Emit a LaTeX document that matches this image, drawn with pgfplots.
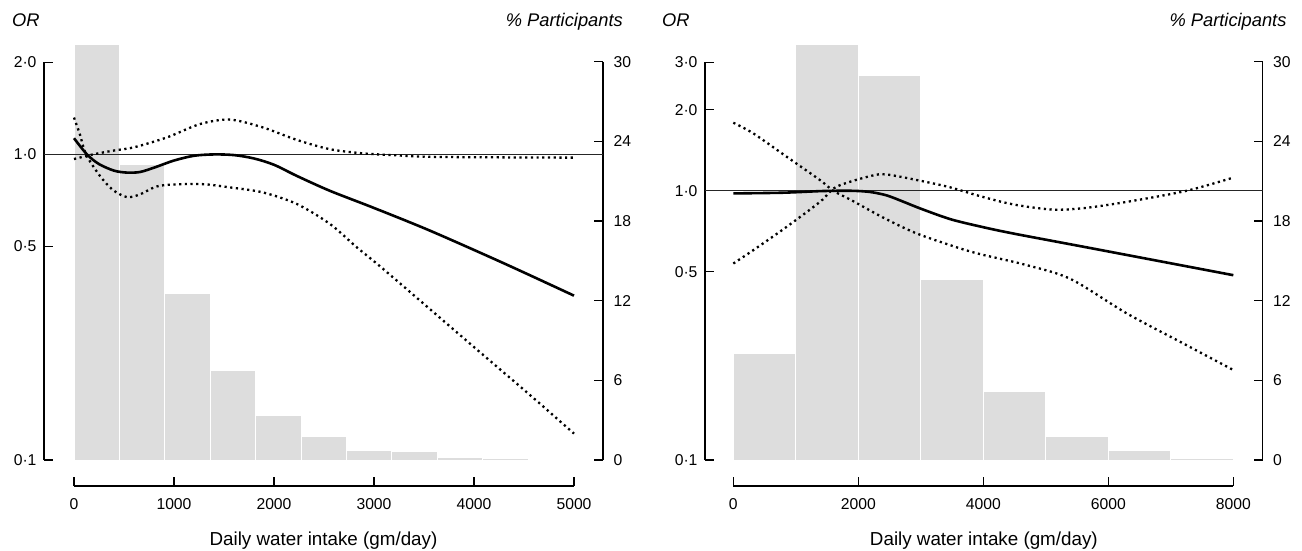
\documentclass[border=0pt]{standalone}
\usepackage{fontspec}
\setmainfont{Liberation Sans}
\usepackage{pgfplots}
\pgfplotsset{compat=1.18}
\definecolor{bargray}{RGB}{221,221,221}

\pgfplotsset{
  panel/.style={
    scale only axis, anchor=south west, height=441pt,
    tick align=inside, major tick length=9pt,
    axis line style={line width=1.2pt, black},
    major tick style={line width=1.2pt, black},
    ticklabel style={font=\fontsize{15.7}{18}\selectfont},
    y axis line style={shorten <=26pt, shorten >=17pt},
    minor tick num=0,
  },
  pctaxis/.style={panel, axis x line=none, axis y line*=right,
    ymin=-1.958, ymax=31.26,
    ytick={0,6,12,18,24,30}, yticklabels={0,6,12,18,24,30},
    yticklabel style={xshift=7pt},
    every axis y label/.style={at={(rel axis cs:1,1)}, anchor=base east,
      inner sep=0pt, yshift=18pt, font=\fontsize{18.3}{21}\selectfont\itshape},
    ylabel={\% Participants}},
  oraxis/.style={panel, axis x line*=bottom, axis y line*=left,
    yminorticks=false,
    xticklabel style={yshift=-9pt}, yticklabel style={xshift=-4pt},
    every axis y label/.style={at={(rel axis cs:0,1)}, anchor=base west,
      inner sep=0pt, yshift=18pt, font=\fontsize{18.3}{21}\selectfont\itshape},
    every axis x label/.style={at={(rel axis cs:0.5,0)}, anchor=base,
      inner sep=0pt, yshift=-59pt, font=\fontsize{18.8}{21}\selectfont},
    xlabel={Daily water intake (gm/day)}, ylabel={OR}},
  bars/.style={ybar interval, fill=bargray, draw=white, line width=1pt},
  refline/.style={black!85, line width=1.2pt},
  est/.style={black, line width=2.6pt, smooth},
  ci/.style={black, line width=2.3pt, dash pattern=on 2.2pt off 3.5pt, smooth},
}

\begin{document}
\begin{tikzpicture}
\path[use as bounding box] (0,0) rectangle (1302pt,551pt);

% ---------- left panel ----------
\begin{axis}[pctaxis, at={(44pt,65pt)}, width=559pt, xmin=-300, xmax=5290,
  every axis y label/.append style={xshift=20pt}]
\addplot[bars] coordinates {(0,31.3) (454,22.25) (908,12.56) (1362,6.76)
  (1816,3.37) (2270,1.76) (2724,0.75) (3178,0.63) (3632,0.2) (4086,0.08) (4540,0)};
\end{axis}

\begin{axis}[oraxis, ymode=log, at={(44pt,65pt)}, width=559pt, xmin=-300, xmax=5290,
  ymin=0.0822, ymax=2.281,
  x axis line style={shorten <=30pt, shorten >=29pt},
  xtick={0,1000,2000,3000,4000,5000}, xticklabels={0,1000,2000,3000,4000,5000},
  ytick={0.1,0.5,1,2}, yticklabels={0·1,0·5,1·0,2·0},
  every axis y label/.append style={xshift=-32pt}]
\addplot[refline] coordinates {(-300,1) (5290,1)};
\addplot[est] coordinates {(0,1.13) (130,1.0) (250,0.93) (400,0.885) (530,0.872)
  (660,0.876) (800,0.905) (1000,0.955) (1200,0.99) (1400,1.0) (1600,0.995)
  (1800,0.97) (2000,0.925) (2230,0.85) (2560,0.76) (3000,0.668) (3560,0.563)
  (4300,0.44) (5000,0.345)};
\addplot[ci] coordinates {(0,0.966) (190,1.0) (400,1.03) (600,1.055) (930,1.137)
  (1260,1.257) (1560,1.3) (1890,1.225) (2230,1.115) (2560,1.04) (2890,1.008)
  (3230,0.993) (3560,0.982) (4300,0.978) (5000,0.976)};
\addplot[ci] coordinates {(0,1.32) (60,1.16) (120,1.0) (260,0.85) (390,0.765)
  (530,0.725) (660,0.74) (860,0.79) (1260,0.80) (1560,0.78) (1890,0.751)
  (2230,0.688) (2560,0.592) (2830,0.496) (3110,0.417) (3930,0.245) (4590,0.16)
  (5000,0.122)};
\end{axis}

% ---------- right panel ----------
\begin{axis}[pctaxis, at={(705pt,65pt)}, width=557.7pt, xmin=-453, xmax=8470,
  every axis y label/.append style={xshift=24pt}]
\addplot[bars] coordinates {(0,8.0) (1000,31.3) (2000,28.94) (3000,13.56)
  (4000,5.15) (5000,1.76) (6000,0.68) (7000,0.13) (8000,0)};
\end{axis}

\begin{axis}[oraxis, ymode=log, at={(705pt,65pt)}, width=557.7pt, xmin=-453, xmax=8470,
  ymin=0.0801, ymax=3.48,
  x axis line style={shorten <=28.3pt, shorten >=29.4pt},
  xtick={0,2000,4000,6000,8000}, xticklabels={0,2000,4000,6000,8000},
  ytick={0.1,0.5,1,2,3}, yticklabels={0·1,0·5,1·0,2·0,3·0},
  every axis y label/.append style={xshift=-43pt}]
\addplot[refline] coordinates {(-453,1) (8470,1)};
\addplot[est] coordinates {(0,0.978) (800,0.984) (1430,0.998) (1900,1.0) (2190,0.99)
  (2450,0.962) (2700,0.915) (2990,0.86) (3470,0.785) (3950,0.737) (4480,0.694)
  (5760,0.61) (8000,0.486)};
\addplot[ci] coordinates {(0,0.537) (320,0.602) (854,0.735) (1387,0.91) (1650,1.035)
  (2190,1.134) (2450,1.15) (2990,1.09) (3470,1.03) (3950,0.955) (4480,0.89)
  (5100,0.852) (5600,0.862) (6300,0.91) (7250,1.0) (8000,1.12)};
\addplot[ci] coordinates {(0,1.79) (320,1.634) (854,1.338) (1387,1.096) (1600,1.0)
  (1900,0.92) (2400,0.795) (2930,0.695) (3630,0.611) (4000,0.578) (4690,0.53)
  (5400,0.47) (6300,0.35) (7200,0.271) (8000,0.216)};
\end{axis}
\end{tikzpicture}
\end{document}
